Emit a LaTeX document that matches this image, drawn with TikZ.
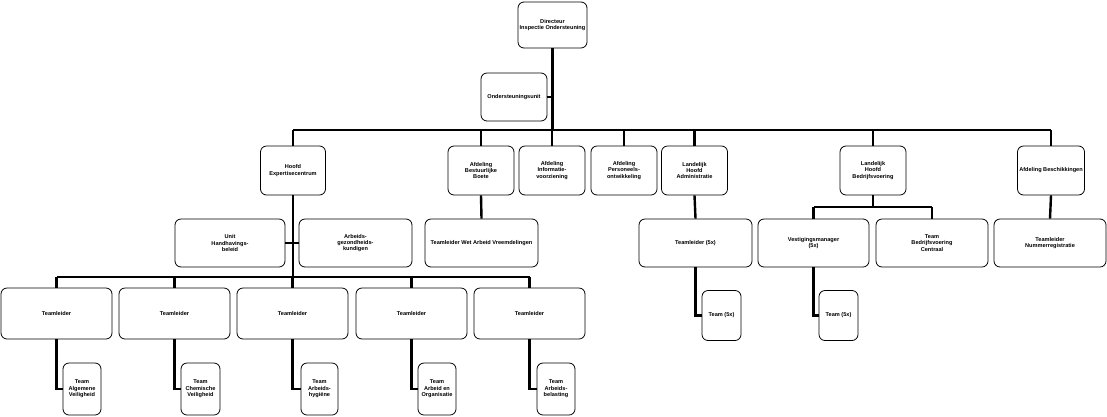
\documentclass[tikz,border=0pt]{standalone}
\usepackage{fontspec}
\setmainfont{Liberation Sans}
\begin{document}
\begin{tikzpicture}[x=1pt,y=-1pt,
  box/.style={draw,line width=0.8pt,rounded corners=6pt,align=center,
    font=\fontsize{5.6}{6.4}\selectfont\bfseries,inner sep=1pt},
  conn/.style={line width=2.4pt}]
\useasboundingbox (0,0) rectangle (1107,416);
\newcommand{\bx}[6]{\node[box,minimum width=#4,minimum height=#5] (#1) at (#2,#3) {#6};}
% level 0
\bx{dir}{552.5}{25}{69pt}{46pt}{Directeur\\Inspectie Ondersteuning}
\bx{ond}{514}{97}{66pt}{48pt}{Ondersteuningsunit}
% level 1
\bx{hoofd}{293}{170.5}{65pt}{49pt}{Hoofd\\Expertisecentrum}
\bx{boete}{481}{170.5}{66pt}{49pt}{Afdeling\\Bestuurlijke\\Boete}
\bx{info}{552}{170.5}{66pt}{49pt}{Afdeling\\Informatie-\\voorziening}
\bx{pers}{624}{170.5}{66pt}{49pt}{Afdeling\\Personeels-\\ontwikkeling}
\bx{adm}{694.5}{170.5}{66pt}{49pt}{Landelijk\\Hoofd\\Administratie}
\bx{bedr}{873}{170.5}{66pt}{49pt}{Landelijk\\Hoofd\\Bedrijfsvoering}
\bx{besch}{1051}{170.5}{67pt}{49pt}{Afdeling Beschikkingen}
% level 2
\bx{unit}{230}{243}{110pt}{48pt}{Unit\\Handhavings-\\beleid}
\bx{arbg}{355.5}{243}{113pt}{48pt}{Arbeids-\\gezondheids-\\kundigen}
\bx{wav}{481.5}{243}{113pt}{48pt}{Teamleider Wet Arbeid Vreemdelingen}
\bx{tl5}{695.5}{243}{113pt}{48pt}{Teamleider (5x)}
\bx{vest}{813.5}{243}{111pt}{48pt}{Vestigingsmanager\\(5x)}
\bx{tbc}{932}{243}{112pt}{48pt}{Team\\Bedrijfsvoering\\Centraal}
\bx{tln}{1050}{243}{112pt}{48pt}{Teamleider\\Nummerregistratie}
% level 3
\bx{ta}{56.5}{313.5}{111pt}{51pt}{Teamleider}
\bx{tb}{174.5}{313.5}{111pt}{51pt}{Teamleider}
\bx{tc}{292.5}{313.5}{111pt}{51pt}{Teamleider}
\bx{td}{411.5}{313.5}{111pt}{51pt}{Teamleider}
\bx{te}{529.5}{313.5}{111pt}{51pt}{Teamleider}
\bx{t5a}{721.5}{315.5}{39pt}{50pt}{Team (5x)}
\bx{t5b}{838.5}{315.5}{39pt}{50pt}{Team (5x)}
% level 4
\bx{tma}{82}{389}{38pt}{52pt}{Team\\Algemene\\Veiligheid}
\bx{tmb}{200.5}{389}{39pt}{52pt}{Team\\Chemische\\Veiligheid}
\bx{tmc}{319.5}{389}{37pt}{52pt}{Team\\Arbeids-\\hygi\"ene}
\bx{tmd}{437}{389}{38pt}{52pt}{Team\\Arbeid en\\Organisatie}
\bx{tme}{556}{389}{38pt}{52pt}{Team\\Arbeids-\\belasting}
% connectors
\coordinate (bus1) at (552.5,130);
\draw[conn] (dir.south) -- (bus1);
\draw[conn] (ond.east) -- (ond.east -| dir.south);
\coordinate (bL) at (293,130);
\coordinate (bR) at (1051,130);
\draw[conn] (bL) -- (bR);
\foreach \n in {hoofd,boete,info,pers,adm,bedr,besch}
  \draw[conn] (\n.north) -- (\n.north |- bL);
% expertise centre
\coordinate (bus2) at (293,277);
\draw[conn] (hoofd.south) -- (bus2);
\draw[conn] (unit.east) -- (unit.east -| bus2);
\draw[conn] (arbg.west) -- (arbg.west -| bus2);
\draw[conn] (boete.south) -- (wav.north);
\draw[conn] (ta.north |- bus2) -- (te.north |- bus2);
\foreach \n in {ta,tb,tc,td,te}
  \draw[conn] (\n.north) -- (\n.north |- bus2);
% administration
\draw[conn] (adm.south) -- (tl5.north);
\draw[conn] (tl5.south) |- (t5a.west);
% bedrijfsvoering
\coordinate (bus3) at (873,207);
\draw[conn] (bedr.south) -- (bus3);
\draw[conn] (vest.north |- bus3) -- (tbc.north |- bus3);
\draw[conn] (vest.north) -- (vest.north |- bus3);
\draw[conn] (tbc.north) -- (tbc.north |- bus3);
\draw[conn] (vest.south) |- (t5b.west);
\draw[conn] (besch.south) -- (tln.north);
% teams
\draw[conn] (ta.south) |- (tma.west);
\draw[conn] (tb.south) |- (tmb.west);
\draw[conn] (tc.south) |- (tmc.west);
\draw[conn] (td.south) |- (tmd.west);
\draw[conn] (te.south) |- (tme.west);
\end{tikzpicture}
\end{document}
